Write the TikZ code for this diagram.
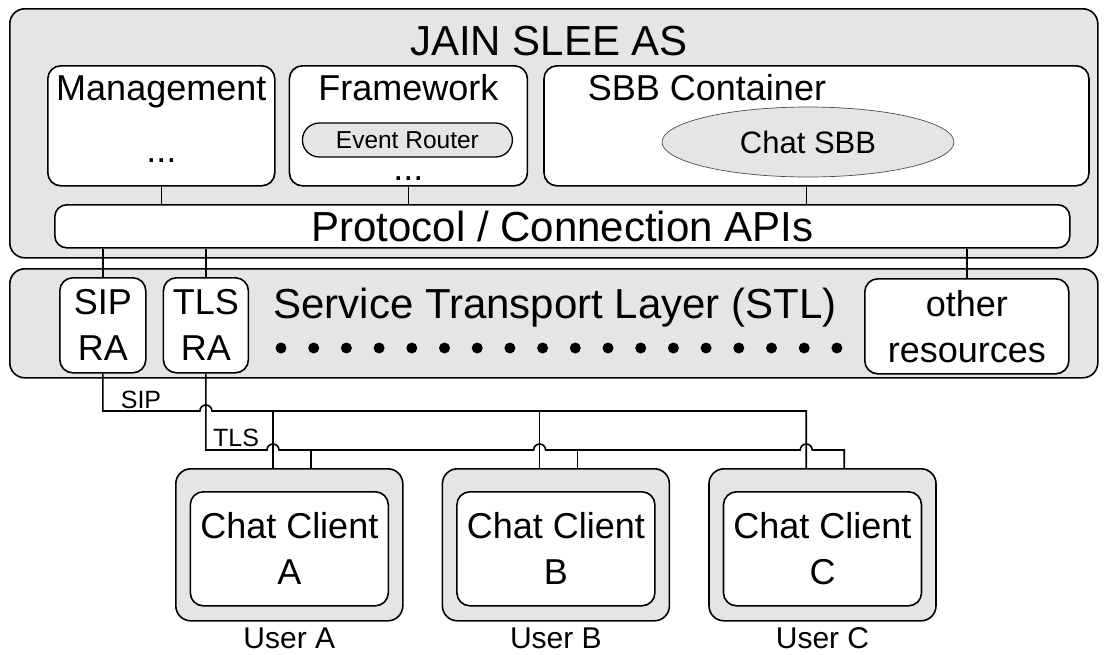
\documentclass[tikz,border=0pt]{standalone}
\usepackage{fontspec}
\setmainfont{Liberation Sans}
\usepackage{tikz}
\usetikzlibrary{shapes.geometric, positioning, calc}
\tikzstyle{layer} = [rectangle, rounded corners=15pt, draw=black, fill=gray!20, line width=1.6pt, inner sep=0pt]
\tikzstyle{module} = [rectangle, rounded corners=13pt, draw=black, fill=white, line width=1.6pt, inner sep=0pt]
\tikzstyle{pill} = [rectangle, rounded corners=17pt, draw=black, fill=gray!20, line width=1.3pt, minimum width=210pt, minimum height=34pt, font=\fontsize{24.5}{28}\selectfont]
\tikzstyle{bigtext} = [font=\fontsize{42}{50}\selectfont, inner sep=0pt]
\tikzstyle{midtext} = [font=\fontsize{36}{46}\selectfont, inner sep=0pt]
\tikzstyle{usertext} = [font=\fontsize{30}{36}\selectfont, inner sep=0pt]
\tikzstyle{wiretext} = [font=\fontsize{25}{30}\selectfont, inner sep=0pt]
\tikzstyle{wire} = [line width=1.6pt]

\begin{document}
\begin{tikzpicture}[x=1pt, y=-1pt]
        \useasboundingbox (0,0) rectangle (1105,654);
        % application server
        \node (as) [layer, anchor=north west, minimum width=1088pt, minimum height=249pt] at (9,8) {};
        \node (astitle) [bigtext, anchor=base] at (549,55) {JAIN SLEE AS};
        \node (mgmt) [module, anchor=north west, minimum width=227pt, minimum height=120pt] at (47,65) {};
        \node (fw) [module, right=13pt of mgmt, minimum width=238pt, minimum height=120pt] {};
        \node (sbb) [module, right=15pt of fw, minimum width=545pt, minimum height=120pt] {};
        \node (mgmttxt) [midtext, anchor=base] at ($(mgmt.north)+(0,35)$) {Management};
        \node (mgmtdots) [midtext, anchor=base] at ($(mgmt.north)+(0,97)$) {...};
        \node (fwtxt) [midtext, anchor=base] at ($(fw.north)+(0,35)$) {Framework};
        \node (router) [pill] at ($(fw.north)+(-1,75)$) {Event Router};
        \node (fwdots) [midtext, anchor=base] at ($(fw.north)+(0,115)$) {...};
        \node (sbbtxt) [midtext, anchor=base] at (707,100) {SBB Container};
        \node (chatsbb) [ellipse, draw=gray!60!black, line width=0.7pt, fill=gray!20, minimum width=292pt, minimum height=70pt, font=\fontsize{31}{36}\selectfont] at (808,142) {Chat SBB};
        \node (api) [module, anchor=north west, minimum width=1015pt, minimum height=43pt, rounded corners=12pt, bigtext] at (54,204) {Protocol / Connection APIs};

        \draw [wire] (mgmt.south) -- (mgmt.south |- api.north);
        \draw [wire] (fw.south) -- (fw.south |- api.north);
        \draw [wire] ($(sbb.south)+(-10,0)$) -- ($(sbb.south |- api.north)+(-10,0)$);

        % transport layer
        \node (stl) [layer, anchor=north west, minimum width=1088pt, minimum height=109pt] at (9,268) {};
        \node (sipra) [module, anchor=north west, minimum width=86pt, minimum height=95pt, midtext, align=center] at (59,277) {SIP\\RA};
        \node (tlsra) [module, right=16pt of sipra, minimum width=85pt, minimum height=95pt, midtext, align=center] {TLS\\RA};
        \node (other) [module, anchor=north west, minimum width=204pt, minimum height=95pt, midtext, align=center] at (864,278) {other\\resources};
        \node (stltxt) [bigtext, anchor=base] at (555,318) {Service Transport Layer (STL)};
        \foreach \i in {0,...,17}
            \fill (281+32.7*\i,348) circle[radius=5.5pt];

        \draw [wire] (sipra.north) -- (sipra.north |- api.south);
        \draw [wire] (tlsra.north) -- (tlsra.north |- api.south);
        \draw [wire] (other.north) -- (other.north |- api.south);

        % clients
        \node (cliA) [layer, anchor=north west, minimum width=227pt, minimum height=152pt] at (175,468) {};
        \node (cliB) [layer, right=38pt of cliA, minimum width=227pt, minimum height=152pt] {};
        \node (cliC) [layer, right=38pt of cliB, minimum width=227pt, minimum height=152pt] {};
        \foreach \c in {A,B,C} {
            \node (chat\c) [module, minimum width=198pt, minimum height=114pt, midtext, align=center] at ($(cli\c)+(0,4)$) {Chat Client\\\c};
            \node (user\c) [usertext, anchor=base] at ($(cli\c.south)+(0,27)$) {User \c};
            \coordinate (sip\c) at ($(cli\c.north west)+(98,0)$);
            \coordinate (tls\c) at ($(cli\c.north west)+(136,0)$);
        }

        % SIP and TLS lines
        \coordinate (sipbus) at (0,411);
        \coordinate (tlsbus) at (0,450);
        \draw [wire] (sipra.south) |- ($(tlsra.south |- sipbus)+(-6,0)$) arc[start angle=180, end angle=0, radius=6pt] -| (sipC);
        \draw [wire] (tlsra.south) |- ($(sipA |- tlsbus)+(-6,0)$) arc[start angle=180, end angle=0, radius=6pt]
            -- ($(sipB |- tlsbus)+(-6,0)$) arc[start angle=180, end angle=0, radius=6pt]
            -- ($(sipC |- tlsbus)+(-6,0)$) arc[start angle=180, end angle=0, radius=6pt] -| (tlsC);
        \foreach \c in {A,B} {
            \draw [wire] (sip\c |- sipbus) -- (sip\c);
            \draw [wire] (tls\c |- tlsbus) -- (tls\c);
        }
        \node (siplbl) [wiretext, anchor=base] at (141,408) {SIP};
        \node (tlslbl) [wiretext, anchor=base] at (236,446) {TLS};
    \end{tikzpicture}
\end{document}
